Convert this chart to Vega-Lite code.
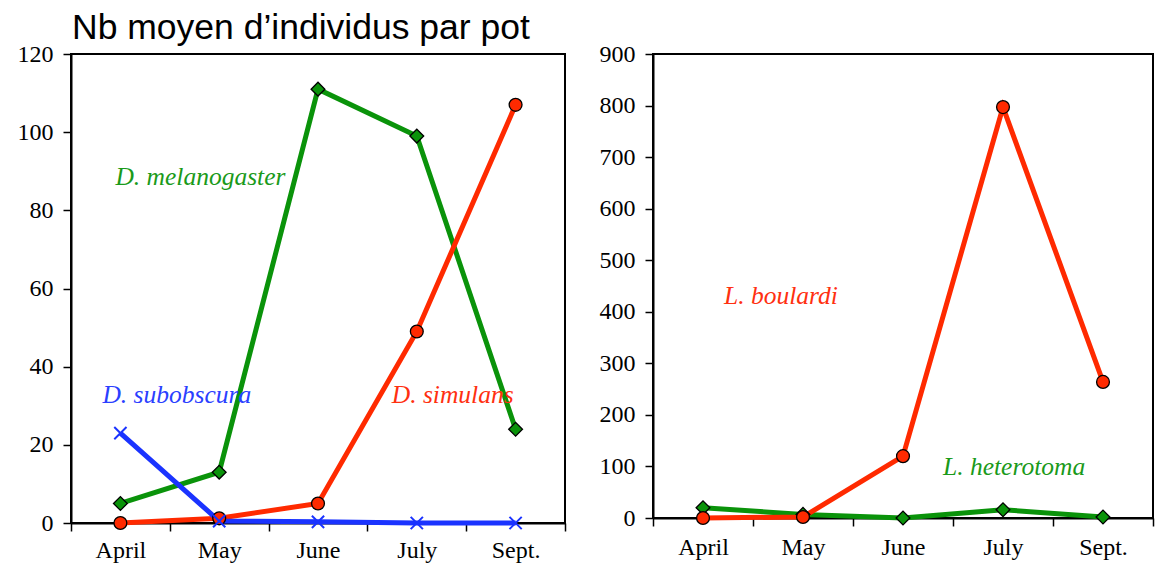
{
  "$schema": "https://vega.github.io/schema/vega-lite/v6.json",
  "background": "white",
  "padding": {"left": 16, "top": 10, "right": 8, "bottom": 0},
  "spacing": 31,
  "title": {
    "text": "Nb moyen d’individus par pot",
    "font": "Liberation Sans",
    "fontSize": 35.5,
    "fontWeight": "normal",
    "color": "black",
    "anchor": "start",
    "dx": 56,
    "offset": -5
  },
  "datasets": {
    "left": [
      {"species": "D. melanogaster", "month": "April", "value": 5},
      {"species": "D. melanogaster", "month": "May", "value": 13},
      {"species": "D. melanogaster", "month": "June", "value": 111},
      {"species": "D. melanogaster", "month": "July", "value": 99},
      {"species": "D. melanogaster", "month": "Sept.", "value": 24},
      {"species": "D. simulans", "month": "April", "value": 0},
      {"species": "D. simulans", "month": "May", "value": 1.2},
      {"species": "D. simulans", "month": "June", "value": 5},
      {"species": "D. simulans", "month": "July", "value": 49},
      {"species": "D. simulans", "month": "Sept.", "value": 107},
      {"species": "D. subobscura", "month": "April", "value": 23},
      {"species": "D. subobscura", "month": "May", "value": 0.5},
      {"species": "D. subobscura", "month": "June", "value": 0.3},
      {"species": "D. subobscura", "month": "July", "value": 0},
      {"species": "D. subobscura", "month": "Sept.", "value": 0}
    ],
    "right": [
      {"species": "L. boulardi", "month": "April", "value": 0},
      {"species": "L. boulardi", "month": "May", "value": 2},
      {"species": "L. boulardi", "month": "June", "value": 120},
      {"species": "L. boulardi", "month": "July", "value": 797},
      {"species": "L. boulardi", "month": "Sept.", "value": 264},
      {"species": "L. heterotoma", "month": "April", "value": 20},
      {"species": "L. heterotoma", "month": "May", "value": 7},
      {"species": "L. heterotoma", "month": "June", "value": 0},
      {"species": "L. heterotoma", "month": "July", "value": 16},
      {"species": "L. heterotoma", "month": "Sept.", "value": 2}
    ]
  },
  "config": {
    "view": {"stroke": "black", "strokeWidth": 2},
    "axis": {
      "labelFont": "Liberation Serif",
      "labelFontSize": 24,
      "labelColor": "black",
      "domainColor": "black",
      "domainWidth": 2,
      "tickColor": "black",
      "tickWidth": 1.5,
      "tickSize": 8,
      "grid": false,
      "title": null
    }
  },
  "hconcat": [
    {
      "width": 494,
      "height": 469,
      "encoding": {
        "x": {"field": "month", "type": "ordinal", "sort": ["April", "May", "June", "July", "Sept."],
              "scale": {"type": "band", "paddingInner": 0, "paddingOuter": 0},
              "axis": {"labelAngle": 0, "tickBand": "extent", "labelPadding": 7}},
        "y": {"field": "value", "type": "quantitative",
              "scale": {"domain": [0, 120], "nice": false},
              "axis": {"values": [0, 20, 40, 60, 80, 100, 120], "labelPadding": 10}}
      },
      "layer": [
        {"data": {"name": "left"}, "transform": [{"filter": "datum.species === 'D. melanogaster'"}],
         "mark": {"type": "line", "color": "#0a930a", "strokeWidth": 5}},
        {"data": {"name": "left"}, "transform": [{"filter": "datum.species === 'D. simulans'"}],
         "mark": {"type": "line", "color": "#ff2a00", "strokeWidth": 5}},
        {"data": {"name": "left"}, "transform": [{"filter": "datum.species === 'D. subobscura'"}],
         "mark": {"type": "line", "color": "#1a33ff", "strokeWidth": 5}},
        {"data": {"name": "left"}, "transform": [{"filter": "datum.species === 'D. melanogaster'"}],
         "mark": {"type": "point", "shape": "diamond", "filled": true, "fill": "#0a930a", "stroke": "black", "strokeWidth": 1.3, "size": 190, "opacity": 1}},
        {"data": {"name": "left"}, "transform": [{"filter": "datum.species === 'D. simulans'"}],
         "mark": {"type": "point", "shape": "circle", "filled": true, "fill": "#ff2a00", "stroke": "black", "strokeWidth": 1.3, "size": 165, "opacity": 1}},
        {"data": {"name": "left"}, "transform": [{"filter": "datum.species === 'D. subobscura'"}],
         "mark": {"type": "point", "shape": "M-1,-1L1,1M-1,1L1,-1", "filled": false, "stroke": "#1a33ff", "strokeWidth": 2, "size": 150, "opacity": 1}},
        {"data": {"values": [{"label": "D. melanogaster", "month": "April", "value": 88.5}]},
         "mark": {"type": "text", "align": "left", "baseline": "middle", "dx": -5, "font": "Liberation Serif", "fontStyle": "italic", "fontSize": 25.5, "color": "#1a9a1a"},
         "encoding": {"text": {"field": "label"}}},
        {"data": {"values": [{"label": "D. subobscura", "month": "April", "value": 32.7}]},
         "mark": {"type": "text", "align": "left", "baseline": "middle", "dx": -18, "font": "Liberation Serif", "fontStyle": "italic", "fontSize": 25.5, "color": "#2a40ff"},
         "encoding": {"text": {"field": "label"}}},
        {"data": {"values": [{"label": "D. simulans", "month": "Sept.", "value": 32.7}]},
         "mark": {"type": "text", "align": "right", "baseline": "middle", "dx": -2, "font": "Liberation Serif", "fontStyle": "italic", "fontSize": 25.5, "color": "#ff3010"},
         "encoding": {"text": {"field": "label"}}}
      ]
    },
    {
      "width": 500,
      "height": 464,
      "encoding": {
        "x": {"field": "month", "type": "ordinal", "sort": ["April", "May", "June", "July", "Sept."],
              "scale": {"type": "band", "paddingInner": 0, "paddingOuter": 0},
              "axis": {"labelAngle": 0, "tickBand": "extent", "labelPadding": 9}},
        "y": {"field": "value", "type": "quantitative",
              "scale": {"domain": [0, 900], "nice": false},
              "axis": {"values": [0, 100, 200, 300, 400, 500, 600, 700, 800, 900], "labelPadding": 10}}
      },
      "layer": [
        {"data": {"name": "right"}, "transform": [{"filter": "datum.species === 'L. heterotoma'"}],
         "mark": {"type": "line", "color": "#0a930a", "strokeWidth": 5}},
        {"data": {"name": "right"}, "transform": [{"filter": "datum.species === 'L. boulardi'"}],
         "mark": {"type": "line", "color": "#ff2a00", "strokeWidth": 5}},
        {"data": {"name": "right"}, "transform": [{"filter": "datum.species === 'L. heterotoma'"}],
         "mark": {"type": "point", "shape": "diamond", "filled": true, "fill": "#0a930a", "stroke": "black", "strokeWidth": 1.3, "size": 190, "opacity": 1}},
        {"data": {"name": "right"}, "transform": [{"filter": "datum.species === 'L. boulardi'"}],
         "mark": {"type": "point", "shape": "circle", "filled": true, "fill": "#ff2a00", "stroke": "black", "strokeWidth": 1.3, "size": 165, "opacity": 1}},
        {"data": {"values": [{"label": "L. boulardi", "month": "April", "value": 430}]},
         "mark": {"type": "text", "align": "left", "baseline": "middle", "dx": 21, "font": "Liberation Serif", "fontStyle": "italic", "fontSize": 25.5, "color": "#ff3010"},
         "encoding": {"text": {"field": "label"}}},
        {"data": {"values": [{"label": "L. heterotoma", "month": "June", "value": 98}]},
         "mark": {"type": "text", "align": "left", "baseline": "middle", "dx": 40, "font": "Liberation Serif", "fontStyle": "italic", "fontSize": 25.5, "color": "#1a9a1a"},
         "encoding": {"text": {"field": "label"}}}
      ]
    }
  ]
}
